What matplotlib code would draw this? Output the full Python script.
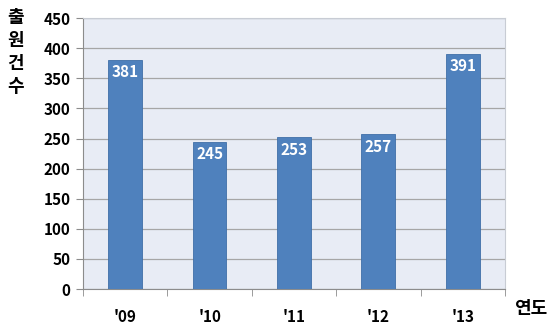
import matplotlib.pyplot as plt
import numpy as np

plt.rcParams['font.family'] = ['Noto Sans CJK KR', 'DejaVu Sans']

years = ["'09", "'10", "'11", "'12", "'13"]
counts = [381, 245, 253, 257, 391]

fig = plt.figure(figsize=(5.5, 3.35), dpi=100)
ax = fig.add_axes([0.151, 0.137, 0.767, 0.809])
ax.set_facecolor('#e8ecf5')

x = np.arange(len(years))
bars = ax.bar(x, counts, width=0.4, color='#4f81bd', edgecolor='#3f6fa8',
              linewidth=0.6, zorder=3)
for b, v in zip(bars, counts):
    ax.text(b.get_x() + b.get_width() / 2, v - 8, str(v), ha='center',
            va='top', color='white', fontsize=11, fontweight='bold', zorder=4)

ax.set_xlim(-0.5, len(years) - 0.5)
ax.set_ylim(0, 450)
ax.set_yticks(np.arange(0, 451, 50))
ax.set_xticks(x)
ax.set_xticklabels(years)
ax.set_xticks(np.arange(-0.5, len(years), 1), minor=True)
ax.tick_params(axis='x', which='major', length=0, pad=14)
ax.tick_params(axis='x', which='minor', length=5, direction='out', color='#8c8c8c')
ax.tick_params(axis='y', length=5, direction='out', color='#8c8c8c', pad=4)
for lab in ax.get_xticklabels() + ax.get_yticklabels():
    lab.set_fontweight('bold')
    lab.set_fontsize(11)

ax.grid(axis='y', color='#a6a6a6', linewidth=0.9, zorder=1)
for side in ['left', 'bottom']:
    ax.spines[side].set_color('#8c8c8c')
for side in ['top', 'right']:
    ax.spines[side].set_color('#c8ccd4')

fig.text(0.028, 0.975, '출\n원\n건\n수', ha='center', va='top', fontsize=13,
         fontweight='bold', linespacing=1.25)
fig.text(0.965, 0.08, '연도', ha='center', va='center', fontsize=13,
         fontweight='bold')

fig.savefig('out.png', dpi=100)
